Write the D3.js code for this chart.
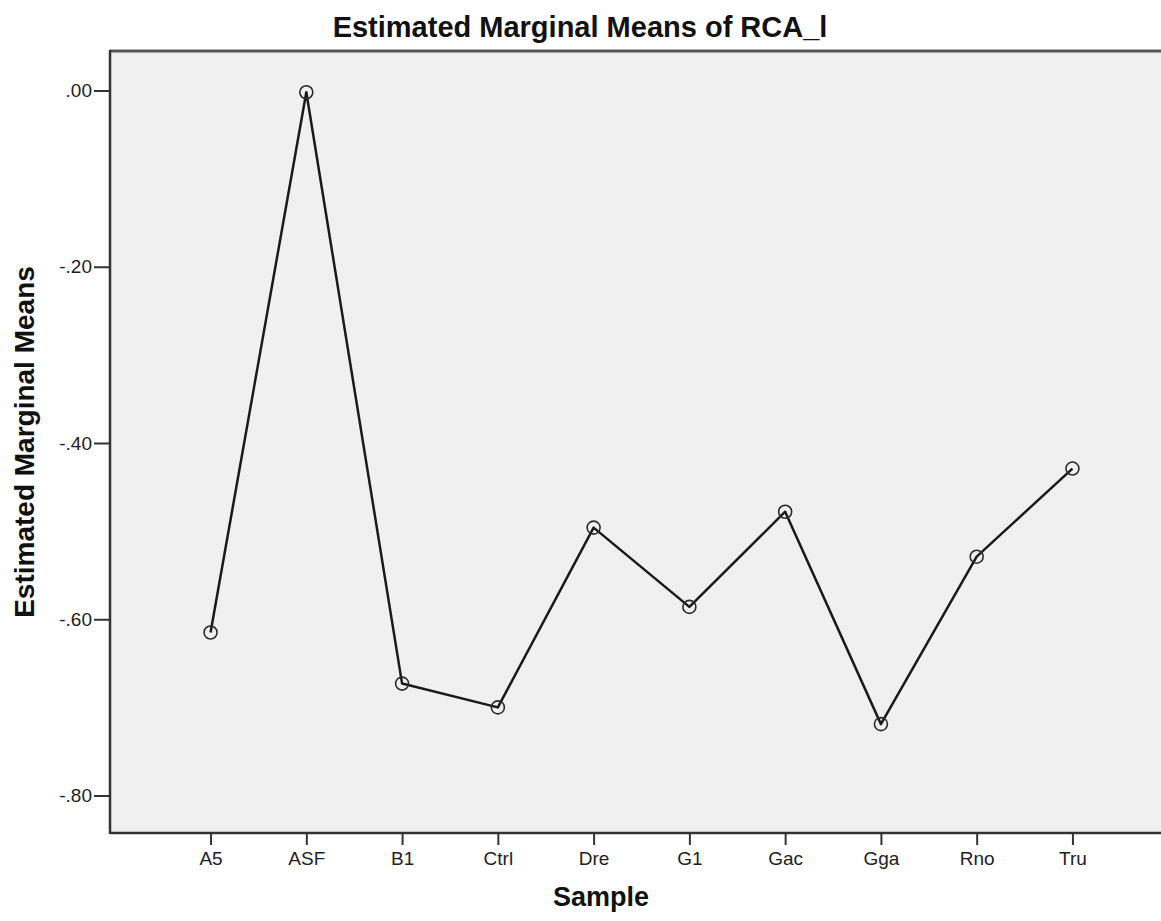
<!DOCTYPE html>
<html>
<head>
<meta charset="utf-8">
<script src="https://cdn.jsdelivr.net/npm/d3@7"></script>
<style>
  html, body { margin: 0; padding: 0; background: #fff; }
  svg { display: block; font-family: "Liberation Sans", Arial, sans-serif; }
  .tick text { fill: #222; }
</style>
</head>
<body>
<svg id="chart" width="1161" height="921"></svg>
<script>
const samples = ['A5', 'ASF', 'B1', 'Ctrl', 'Dre', 'G1', 'Gac', 'Gga', 'Rno', 'Tru'];
const means = [-0.615, -0.002, -0.673, -0.700, -0.496, -0.586, -0.478, -0.719, -0.529, -0.429];
const yTicks = [0, -0.2, -0.4, -0.6, -0.8];
const yTickLabels = ['.00', '-.20', '-.40', '-.60', '-.80'];

const svg = d3.select('#chart');
const frame = { left: 110, top: 51, right: 1173, bottom: 833 };

const x = d3.scalePoint().domain(samples).range([frame.left, frame.right]).padding(1.05);
const y = d3.scaleLinear().domain([-0.8, 0]).range([795.5, 90.5]);

// plot background
svg.append('rect')
  .attr('x', frame.left)
  .attr('y', frame.top)
  .attr('width', frame.right - frame.left)
  .attr('height', frame.bottom - frame.top)
  .attr('fill', '#f0f0f0');

// top border
svg.append('line')
  .attr('x1', frame.left).attr('x2', frame.right)
  .attr('y1', frame.top).attr('y2', frame.top)
  .attr('stroke', '#555').attr('stroke-width', 3);

// y axis
svg.append('g')
  .attr('transform', `translate(${frame.left},0)`)
  .call(d3.axisLeft(y).tickValues(yTicks).tickFormat((d, i) => yTickLabels[i]).tickSize(16).tickPadding(2))
  .call(g => g.select('.domain').remove())
  .call(g => g.selectAll('line').attr('stroke', '#333').attr('stroke-width', 2))
  .call(g => g.selectAll('text').attr('font-size', 19).attr('font-family', null));

// x axis
svg.append('g')
  .attr('transform', `translate(0,${frame.bottom})`)
  .call(d3.axisBottom(x).tickSize(12).tickPadding(7))
  .call(g => g.select('.domain').remove())
  .call(g => g.selectAll('line').attr('stroke', '#333').attr('stroke-width', 2))
  .call(g => g.selectAll('text').attr('font-size', 19).attr('font-family', null));

// axis lines
svg.append('line')
  .attr('x1', frame.left).attr('x2', frame.left)
  .attr('y1', frame.top - 1).attr('y2', frame.bottom + 1)
  .attr('stroke', '#333').attr('stroke-width', 2.5);
svg.append('line')
  .attr('x1', frame.left).attr('x2', frame.right)
  .attr('y1', frame.bottom).attr('y2', frame.bottom)
  .attr('stroke', '#333').attr('stroke-width', 2.5);

// series line
const line = d3.line()
  .x((d, i) => x(samples[i]))
  .y(d => y(d));

svg.append('path')
  .datum(means)
  .attr('fill', 'none')
  .attr('stroke', '#1a1a1a')
  .attr('stroke-width', 2.5)
  .attr('stroke-linejoin', 'round')
  .attr('d', line);

svg.append('g')
  .selectAll('circle')
  .data(means)
  .join('circle')
  .attr('cx', (d, i) => x(samples[i]))
  .attr('cy', d => y(d))
  .attr('r', 6.5)
  .attr('fill', 'none')
  .attr('stroke', '#2a2a2a')
  .attr('stroke-width', 1.6);

// titles
svg.append('text')
  .attr('x', 580)
  .attr('y', 37)
  .attr('text-anchor', 'middle')
  .attr('font-size', 29)
  .attr('font-weight', 'bold')
  .attr('fill', '#111')
  .text('Estimated Marginal Means of RCA_l');

svg.append('text')
  .attr('transform', `translate(34,${(frame.top + frame.bottom) / 2}) rotate(-90)`)
  .attr('text-anchor', 'middle')
  .attr('font-size', 28)
  .attr('font-weight', 'bold')
  .attr('fill', '#111')
  .text('Estimated Marginal Means');

svg.append('text')
  .attr('x', 601)
  .attr('y', 906)
  .attr('text-anchor', 'middle')
  .attr('font-size', 27)
  .attr('font-weight', 'bold')
  .attr('fill', '#111')
  .text('Sample');
</script>
</body>
</html>
